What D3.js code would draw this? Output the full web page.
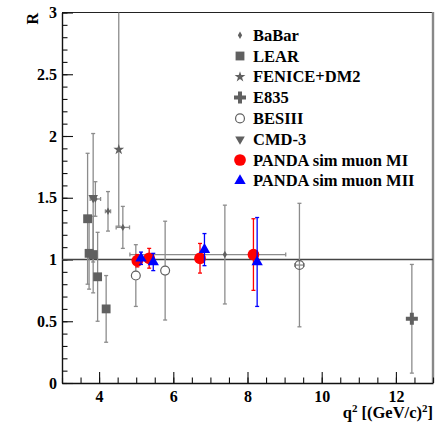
<!DOCTYPE html>
<html>
<head>
<meta charset="utf-8">
<script src="https://cdn.jsdelivr.net/npm/d3@7"></script>
<style>
  body { margin: 0; background: #fff; }
  svg { display: block; }
</style>
</head>
<body>
<svg id="chart" width="440" height="422"></svg>
<script>
// ---- data: R = |GE|/|GM| versus q^2 ----
const babarQ2    = [3.90, 4.24, 4.64, 7.39];
const babarR     = [1.49, 1.39, 1.26, 1.04];
const babarRErr  = [0.14, 0.16, 0.17, 0.40];
const babarQ2Lo  = [0.14, 0.07, 0.18, 2.56];
const babarQ2Hi  = [0.14, 0.07, 0.18, 1.64];

const learQ2     = [3.69, 3.73, 3.84, 3.96, 4.19];
const learR      = [1.33, 1.05, 1.04, 0.86, 0.60];
const learRErr   = [0.53, 0.29, 0.31, 0.36, 0.27];

const feniceQ2   = [4.53];
const feniceR    = [1.89];
const feniceRLo  = [0.62];
const feniceRHi  = [1.20];

const e835Q2     = [12.43];
const e835R      = [0.52];
const e835RErr   = [0.44];

const besQ2      = [4.99, 5.78, 9.40];
const besR       = [0.87, 0.91, 0.955];
const besRErr    = [0.25, 0.40, 0.50];
const besQ2Err   = [0, 0, 0.12];

const cmdQ2      = [3.84];
const cmdR       = [1.50];
const cmdRErr    = [0.52];

const pandaMIQ2    = [5.03, 5.35, 6.72, 8.16];
const pandaMIR     = [0.99, 1.01, 1.01, 1.04];
const pandaMIRErr  = [0.05, 0.08, 0.12, 0.29];

const pandaMIIQ2   = [5.13, 5.46, 6.84, 8.26];
const pandaMIIR    = [1.01, 0.98, 1.08, 0.98];
const pandaMIIRErr = [0.05, 0.07, 0.13, 0.36];

const xMajorTicks = [4, 6, 8, 10, 12];
const yMajorTicks = [0, 0.5, 1, 1.5, 2, 2.5, 3];
const legendLabels = ["BaBar", "LEAR", "FENICE+DM2", "E835", "BESIII", "CMD-3",
                      "PANDA sim muon MI", "PANDA sim muon MII"];

// ---- layout ----
const FONT = "'Liberation Serif', 'Times New Roman', Times, serif";
const frame = { left: 62, right: 433, top: 12.5, bottom: 383 };
const svg = d3.select("#chart");
const x = d3.scaleLinear().domain([3, 13]).range([frame.left, frame.right]);
const y = d3.scaleLinear().domain([0, 3]).range([frame.bottom, frame.top]);

const GRAY_MARK = "#606060";
const GRAY_ERR = "#8c8c8c";

function styleText(sel, size) {
  return sel.style("font-family", FONT).style("font-weight", "bold")
    .style("font-size", size + "px").attr("fill", "#000");
}

// frame: top edge and a heavier grey right edge
svg.append("line").attr("x1", frame.left).attr("x2", frame.right)
  .attr("y1", frame.top).attr("y2", frame.top)
  .attr("stroke", "#222").attr("stroke-width", 1.2);
svg.append("line").attr("x1", frame.right).attr("x2", frame.right)
  .attr("y1", frame.top - 0.6).attr("y2", frame.bottom)
  .attr("stroke", "#888").attr("stroke-width", 2.4);

// axes with inward ticks
const xMinor = d3.range(3, 13.01, 0.5);
svg.append("g").attr("transform", `translate(0,${frame.bottom})`)
  .call(d3.axisBottom(x).tickValues(xMinor).tickSize(-5.5).tickSizeOuter(0).tickFormat(""))
  .call(g => g.select(".domain").remove())
  .call(g => g.selectAll("line").attr("stroke", "#111").attr("stroke-width", 1.1));
svg.append("g").attr("transform", `translate(0,${frame.bottom})`)
  .call(d3.axisBottom(x).tickValues(xMajorTicks).tickSize(-11).tickSizeOuter(0))
  .call(g => g.select(".domain").attr("stroke", "#111").attr("stroke-width", 1.4))
  .call(g => g.selectAll("line").attr("stroke", "#111").attr("stroke-width", 1.1))
  .call(g => styleText(g.selectAll("text"), 16).attr("dy", null).attr("y", 18.5));

const yMinor = d3.range(0, 3.001, 0.1);
svg.append("g").attr("transform", `translate(${frame.left},0)`)
  .call(d3.axisLeft(y).tickValues(yMinor).tickSize(-5.5).tickSizeOuter(0).tickFormat(""))
  .call(g => g.select(".domain").remove())
  .call(g => g.selectAll("line").attr("stroke", "#111").attr("stroke-width", 1.1));
svg.append("g").attr("transform", `translate(${frame.left},0)`)
  .call(d3.axisLeft(y).tickValues(yMajorTicks).tickSize(-11).tickSizeOuter(0).tickPadding(5)
        .tickFormat(d3.format("~g")))
  .call(g => g.select(".domain").attr("stroke", "#111").attr("stroke-width", 1.4))
  .call(g => g.selectAll("line").attr("stroke", "#111").attr("stroke-width", 1.1))
  .call(g => styleText(g.selectAll("text"), 16));

// axis titles
const xt = styleText(svg.append("text"), 16.5).attr("x", frame.right).attr("y", 418)
  .attr("text-anchor", "end");
xt.append("tspan").text("q");
xt.append("tspan").text("2").style("font-size", "11px").attr("dy", -6.5);
xt.append("tspan").text(" [(GeV/c)").attr("dy", 6.5);
xt.append("tspan").text("2").style("font-size", "11px").attr("dy", -6.5);
xt.append("tspan").text("]").attr("dy", 6.5);

styleText(svg.append("text"), 16).attr("transform", "translate(37.5,13) rotate(-90)")
  .attr("text-anchor", "end").text("R");

// reference line at R = 1
svg.append("line").attr("x1", frame.left).attr("x2", frame.right)
  .attr("y1", y(1)).attr("y2", y(1))
  .attr("stroke", "#444").attr("stroke-width", 1.5);

// ---- error bars and markers ----
const plot = svg.append("g");

function rows(q2, r, lo, hi, xlo, xhi) {
  return q2.map((q, i) => ({
    q, r: r[i], lo: lo[i], hi: hi[i],
    xlo: xlo ? xlo[i] : 0, xhi: xhi ? xhi[i] : 0
  }));
}

function errorBars(data, color, gap) {
  const g = plot.append("g").attr("stroke", color).attr("stroke-width", 1.3).attr("fill", "none");
  const cap = 2;
  data.forEach(d => {
    const cx = x(d.q), cy = y(d.r);
    const top = Math.max(y(d.r + d.hi), frame.top);
    const bot = Math.min(y(d.r - d.lo), frame.bottom);
    const gp = (d.xlo > 0 || d.xhi > 0) ? 0 : gap;
    g.append("line").attr("x1", cx).attr("x2", cx).attr("y1", top).attr("y2", cy - gp);
    g.append("line").attr("x1", cx).attr("x2", cx).attr("y1", cy + gp).attr("y2", bot);
    if (y(d.r + d.hi) >= frame.top)
      g.append("line").attr("x1", cx - cap).attr("x2", cx + cap).attr("y1", top).attr("y2", top);
    g.append("line").attr("x1", cx - cap).attr("x2", cx + cap).attr("y1", bot).attr("y2", bot);
    if (d.xlo > 0 || d.xhi > 0) {
      const l = x(d.q - d.xlo), rr = x(d.q + d.xhi);
      g.append("line").attr("x1", l).attr("x2", rr).attr("y1", cy).attr("y2", cy);
      g.append("line").attr("x1", l).attr("x2", l).attr("y1", cy - cap).attr("y2", cy + cap);
      g.append("line").attr("x1", rr).attr("x2", rr).attr("y1", cy - cap).attr("y2", cy + cap);
    }
  });
}

function markers(data, symbolType, size, fill, stroke, rotate) {
  const sym = d3.symbol().type(symbolType).size(size);
  plot.append("g").selectAll("path").data(data).join("path")
    .attr("d", sym)
    .attr("transform", d => `translate(${x(d.q)},${y(d.r)})` + (rotate ? ` rotate(${rotate})` : ""))
    .attr("fill", fill)
    .attr("stroke", stroke || "none")
    .attr("stroke-width", stroke ? 1.2 : 0);
}

const babar = rows(babarQ2, babarR, babarRErr, babarRErr, babarQ2Lo, babarQ2Hi);
const lear = rows(learQ2, learR, learRErr, learRErr);
const fenice = rows(feniceQ2, feniceR, feniceRLo, feniceRHi);
const e835 = rows(e835Q2, e835R, e835RErr, e835RErr);
const bes = rows(besQ2, besR, besRErr, besRErr, besQ2Err, besQ2Err);
const cmd = rows(cmdQ2, cmdR, cmdRErr, cmdRErr);
const pmi = rows(pandaMIQ2, pandaMIR, pandaMIRErr, pandaMIRErr);
const pmii = rows(pandaMIIQ2, pandaMIIR, pandaMIIRErr, pandaMIIRErr);

errorBars(lear, GRAY_ERR, 0);
errorBars(cmd, GRAY_ERR, 0);
errorBars(fenice, GRAY_ERR, 0);
errorBars(babar, GRAY_ERR, 0);
errorBars(e835, GRAY_ERR, 0);
errorBars(bes, GRAY_ERR, 4.6);

markers(lear, d3.symbolSquare, 78, GRAY_MARK);
markers(cmd, d3.symbolTriangle, 40, GRAY_MARK, null, 180);
markers(fenice, d3.symbolStar, 36, GRAY_MARK);
markers(babar, d3.symbolDiamond, 16, GRAY_MARK);
markers(e835, d3.symbolCross, 80, GRAY_MARK);
markers(bes, d3.symbolCircle, 62, "none", GRAY_MARK);

errorBars(pmi, "#ff0000", 0);
markers(pmi, d3.symbolCircle, 108, "#ff0000");
errorBars(pmii, "#0000ff", 0);
markers(pmii, d3.symbolTriangle, 56, "#0000ff");

// ---- legend ----
const legendSymbols = [
  { type: d3.symbolDiamond, size: 16, fill: GRAY_MARK },
  { type: d3.symbolSquare, size: 78, fill: GRAY_MARK },
  { type: d3.symbolStar, size: 36, fill: GRAY_MARK },
  { type: d3.symbolCross, size: 80, fill: GRAY_MARK },
  { type: d3.symbolCircle, size: 62, fill: "none", stroke: GRAY_MARK },
  { type: d3.symbolTriangle, size: 40, fill: GRAY_MARK, rotate: 180 },
  { type: d3.symbolCircle, size: 108, fill: "#ff0000" },
  { type: d3.symbolTriangle, size: 56, fill: "#0000ff" }
];
const legend = svg.append("g");
legendLabels.forEach((label, i) => {
  const cy = 35.2 + i * 20.8;
  const s = legendSymbols[i];
  legend.append("path")
    .attr("d", d3.symbol().type(s.type).size(s.size))
    .attr("transform", `translate(240,${cy})` + (s.rotate ? ` rotate(${s.rotate})` : ""))
    .attr("fill", s.fill)
    .attr("stroke", s.stroke || "none")
    .attr("stroke-width", s.stroke ? 1.2 : 0);
  styleText(legend.append("text"), 16.5).attr("x", 253).attr("y", cy + 5.5).text(label);
});
</script>
</body>
</html>
